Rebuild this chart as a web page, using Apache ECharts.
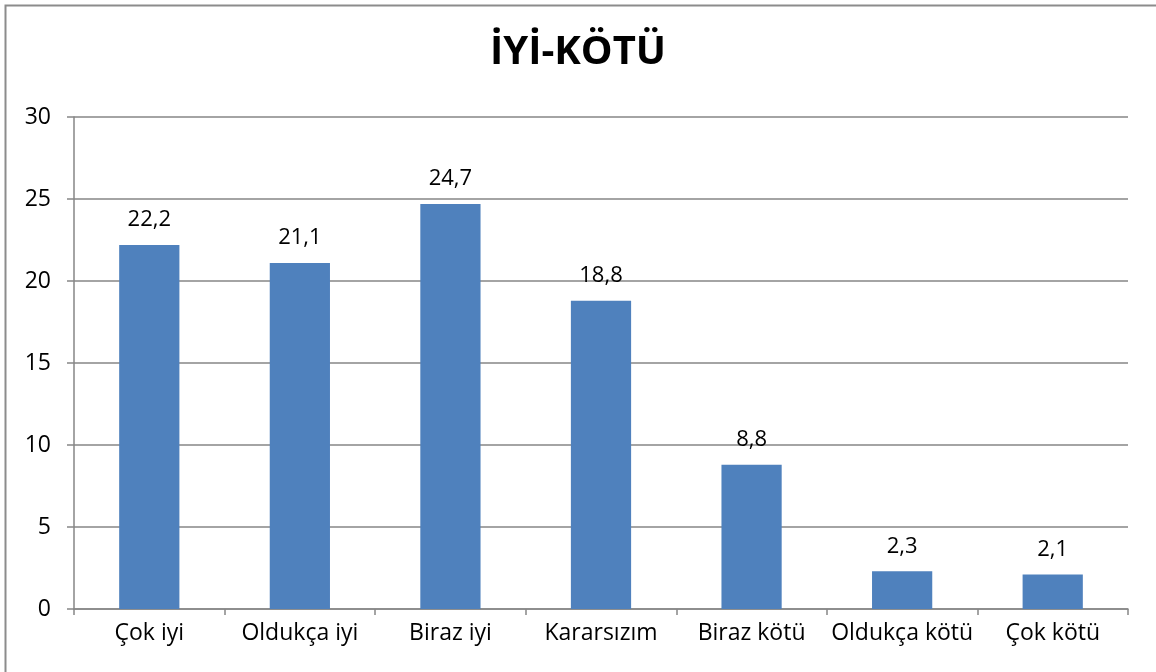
<!DOCTYPE html>
<html><head><meta charset="utf-8">
<script src="https://cdn.jsdelivr.net/npm/echarts@6/dist/echarts.min.js"></script>
<style>html,body{margin:0;padding:0;background:#fff}#c{width:1156px;height:672px}</style>
</head><body><div id="c"></div>
<script>
const categories = ['Çok iyi','Oldukça iyi','Biraz iyi','Kararsızım','Biraz kötü','Oldukça kötü','Çok kötü'];
const values = [22.2, 21.1, 24.7, 18.8, 8.8, 2.3, 2.1];
const yTicks = [0, 5, 10, 15, 20, 25, 30];
const FONT = '"Open Sans", "Noto Sans", sans-serif';
const chart = echarts.init(document.getElementById('c'));
chart.setOption({
  animation: false,
  textStyle: {fontFamily: FONT},
  graphic: [{type:'rect', shape:{x:5.5,y:5.5,width:1170,height:700}, style:{fill:'none', stroke:'#8c8c8c', lineWidth:2}, silent:true}],
  title: {text:'İYİ-KÖTÜ', left:'center', top:28, textStyle:{fontFamily:FONT, fontSize:40, fontWeight:'bold', color:'#000'}},
  grid: {left:74, right:28, top:117, bottom:63, containLabel:false},
  xAxis: {type:'category', data:categories,
    axisLine:{lineStyle:{color:'#868686', width:1.5}},
    axisTick:{show:true, length:6, alignWithLabel:false, interval:0, lineStyle:{color:'#868686', width:1.5}},
    axisLabel:{color:'#000', fontSize:23, fontFamily:FONT, margin:13, interval:0, hideOverlap:false}},
  yAxis: {type:'value', min:0, max:30, interval:5,
    axisLine:{show:true, lineStyle:{color:'#868686', width:1.5}},
    axisTick:{show:true, length:7, lineStyle:{color:'#868686', width:1.5}},
    splitLine:{lineStyle:{color:'#868686', width:1.5}},
    axisLabel:{color:'#000', fontSize:23, fontFamily:FONT, margin:23,
      formatter: v => yTicks.includes(v) ? String(v) : ''}},
  series: [{type:'bar', data:values, barWidth:'40%',
    itemStyle:{color:'#4f81bd'},
    label:{show:true, position:'top', distance:14, color:'#000', fontSize:22, fontFamily:FONT,
      formatter: p => String(p.value).replace('.', ',')}}]
});
</script></body></html>
